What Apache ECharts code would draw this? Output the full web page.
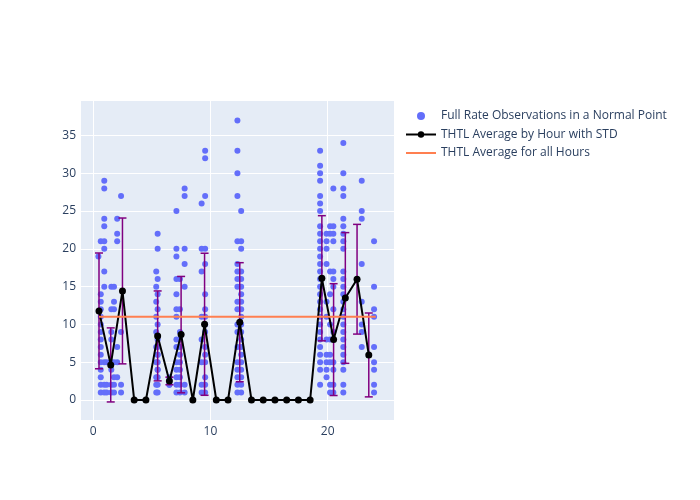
<!DOCTYPE html>
<html>
<head>
<meta charset="utf-8">
<script src="https://cdn.jsdelivr.net/npm/echarts@6/dist/echarts.min.js"></script>
<style>html,body{margin:0;padding:0;background:#fff}#chart{width:700px;height:500px}</style>
</head>
<body>
<div id="chart"></div>
<script>
// Observation columns: [hour position, [full-rate observation counts]]
const obsColumns = [
  [0.45, [19]],
  [0.65, [21, 14, 13, 12, 11, 10, 9, 8, 7, 6, 5, 4, 3, 2, 1]],
  [0.95, [29, 28, 24, 23, 21, 20, 17, 15, 5, 2, 1]],
  [1.15, [5, 2, 1]],
  [1.55, [15, 12, 9, 8, 5, 4, 2, 1]],
  [1.78, [15, 13, 12, 5, 3, 2, 1]],
  [2.05, [24, 22, 21, 7, 5, 3]],
  [2.38, [27, 9, 2, 1]],
  [5.38, [17, 15, 13, 11, 9, 7, 5, 3, 2, 1]],
  [5.5, [22, 20, 16, 14, 12, 10, 8, 7, 6, 6, 5, 4, 4, 3, 2, 1]],
  [6.5, [3, 2, 2]],
  [7.1, [25, 20, 19, 16, 14, 12, 11, 8, 7, 5, 4, 3, 2, 1]],
  [7.4, [16, 12, 9, 8, 7, 6, 5, 4, 3, 2, 1]],
  [7.8, [28, 27, 20, 18, 15, 2, 1]],
  [9.25, [26, 20, 17, 11, 8, 5, 2, 1]],
  [9.55, [33, 32, 27, 20, 18, 14, 12, 11, 10, 9, 7, 6, 5, 3, 2, 1]],
  [12.3, [37, 33, 30, 27, 21, 18, 17, 16, 15, 13, 12, 10, 9, 7, 5, 4, 3, 2, 1]],
  [12.62, [25, 21, 20, 17, 16, 15, 14, 13, 12, 11, 10, 9, 8, 7, 6, 5, 4, 3, 2, 1]],
  [19.35, [33, 31, 30, 29, 27, 26, 25, 23, 22, 21, 20, 19, 18, 17, 16, 15, 14, 13, 12, 11, 10, 9, 8, 7, 6, 5, 4, 2]],
  [19.9, [22, 21, 20, 18, 13, 11, 8, 6, 5, 4, 3]],
  [20.2, [23, 22, 17, 14, 10, 8, 6, 5, 2, 1]],
  [20.48, [28, 23, 22, 21, 17, 16, 15, 12, 9, 8, 5, 4, 2, 1]],
  [21.33, [34, 30, 28, 27, 24, 23, 22, 21, 20, 17, 16, 15, 14, 13, 12, 11, 10, 9, 8, 7, 6, 5, 4, 2, 1]],
  [22.9, [29, 25, 24, 18, 13, 10, 9, 7]],
  [23.95, [21, 15, 12, 11, 7, 5, 4, 2, 1]]
];

const hourCenters = [0.5,1.5,2.5,3.5,4.5,5.5,6.5,7.5,8.5,9.5,10.5,11.5,12.5,13.5,14.5,15.5,16.5,17.5,18.5,19.5,20.5,21.5,22.5,23.5];
const hourAvg = [11.79,4.64,14.43,0,0,8.48,2.52,8.65,0,10.02,0,0,10.29,0,0,0,0,0,0,16.11,7.99,13.5,15.98,5.96];
const hourStd = [7.66,4.9,9.65,0,0,5.95,0.5,7.7,0,9.4,0,0,7.88,0,0,0,0,0,0,8.28,7.4,8.65,7.26,5.55];

const overallAvg = 11.03;
const overallSpan = [0.5, 24.1];

const yTickRange = [-2.65, 39.7];
const xTickRange = [-1.12, 25.65];

const names = ['Full Rate Observations in a Normal Point', 'THTL Average by Hour with STD', 'THTL Average for all Hours'];

// build data
const scatterData = [];
obsColumns.forEach(([x, vals]) => vals.forEach(v => scatterData.push([x, v])));
const avgData = hourCenters.map((h, i) => [h, hourAvg[i]]);
const errData = [];
hourCenters.forEach((h, i) => { if (hourStd[i] > 0) errData.push([h, hourAvg[i] - hourStd[i], hourAvg[i] + hourStd[i]]); });
const overallData = overallSpan.map(x => [x, overallAvg]);

const font = '"Open Sans", verdana, arial, sans-serif';
const txt = '#2a3f5f';

const chart = echarts.init(document.getElementById('chart'), null, {renderer: 'canvas'});
chart.setOption({
  animation: false,
  backgroundColor: '#ffffff',
  textStyle: {fontFamily: font},
  grid: {left: 80, right: 306, top: 100, bottom: 80, show: true, backgroundColor: '#E5ECF6', borderWidth: 0},
  legend: {
    orient: 'vertical', left: 400, top: 105,
    itemWidth: 30, itemHeight: 8, itemGap: 6.5,
    symbolKeepAspect: true,
    textStyle: {color: txt, fontSize: 12, fontFamily: font},
    data: [
      {name: names[0], icon: 'circle'},
      {name: names[1]},
      {name: names[2], icon: 'path://M0,0h30v2h-30z'}
    ]
  },
  xAxis: {
    type: 'value', min: xTickRange[0], max: xTickRange[1], splitNumber: 3,
    axisLine: {show: false}, axisTick: {show: false},
    axisLabel: {color: txt, fontSize: 12, fontFamily: font, margin: 6, showMinLabel: false, showMaxLabel: false},
    splitLine: {show: true, lineStyle: {color: '#ffffff', width: 1}}
  },
  yAxis: {
    type: 'value', min: yTickRange[0], max: yTickRange[1], splitNumber: 8,
    axisLine: {show: false}, axisTick: {show: false},
    axisLabel: {color: txt, fontSize: 12, fontFamily: font, margin: 4, showMinLabel: false, showMaxLabel: false},
    splitLine: {show: true, lineStyle: {color: '#ffffff', width: 1}}
  },
  series: [
    {
      name: names[0], type: 'scatter', data: scatterData,
      symbolSize: 6, itemStyle: {color: '#636efa', opacity: 1}, z: 2
    },
    {
      name: 'std', type: 'custom', data: errData, z: 3,
      encode: {x: 0, y: [1, 2]},
      renderItem: function (params, api) {
        const x = api.value(0), lo = api.value(1), hi = api.value(2);
        const pt = api.coord([x, hi]);
        const pb = api.coord([x, lo]);
        const w = 4;
        const st = {stroke: '#800080', lineWidth: 1.5};
        return {type: 'group', children: [
          {type: 'line', shape: {x1: pt[0], y1: pt[1], x2: pb[0], y2: pb[1]}, style: st},
          {type: 'line', shape: {x1: pt[0] - w, y1: pt[1], x2: pt[0] + w, y2: pt[1]}, style: st},
          {type: 'line', shape: {x1: pb[0] - w, y1: pb[1], x2: pb[0] + w, y2: pb[1]}, style: st}
        ]};
      }
    },
    {
      name: names[1], type: 'line', data: avgData, z: 4,
      symbol: 'circle', symbolSize: 7, showSymbol: true,
      itemStyle: {color: '#000000'}, lineStyle: {color: '#000000', width: 2}
    },
    {
      name: names[2], type: 'line', data: overallData, z: 5,
      symbol: 'none', itemStyle: {color: '#FF7F50'}, lineStyle: {color: '#FF7F50', width: 2}
    }
  ]
});
</script>
</body>
</html>
